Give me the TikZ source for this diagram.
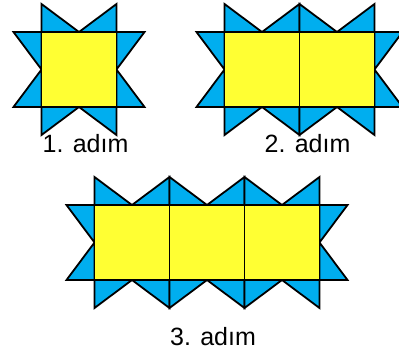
\documentclass[tikz,border=0pt]{standalone}
\usepackage{fontspec}
\setmainfont{Liberation Sans}
\definecolor{tri}{RGB}{0,174,239}
\definecolor{sq}{RGB}{255,255,51}
\tikzset{
  tribox/.style={fill=tri,draw=black,line width=1.8pt,line join=miter},
  sqbox/.style={fill=sq,draw=black,line width=1.8pt},
  lbl/.style={anchor=base,inner sep=0pt,font=\fontsize{25}{29}\selectfont}
}
\begin{document}
\begin{tikzpicture}[x=1pt,y=-1pt]
\useasboundingbox (0,0) rectangle (399,351);
\clip (0,0) rectangle (399,351);
% fig: origin x0,y0, count n
\foreach \xo/\yo/\n in {41.5/32/1, 224.5/32/2, 94.5/205/3}{
  \pgfmathsetmacro{\xe}{\xo+75*\n}
  \pgfmathtruncatemacro{\nm}{\n-1}
  \foreach \i in {0,...,\nm}{
    \pgfmathsetmacro{\xl}{\xo+75*\i}
    \pgfmathsetmacro{\xr}{\xl+75}
    \pgfmathsetmacro{\xm}{\xl+37.5}
    \draw[tribox] (\xl,\yo-28) -- (\xl,\yo) -- (\xm,\yo) -- cycle;
    \draw[tribox] (\xr,\yo-28) -- (\xr,\yo) -- (\xm,\yo) -- cycle;
    \draw[tribox] (\xl,\yo+103) -- (\xl,\yo+75) -- (\xm,\yo+75) -- cycle;
    \draw[tribox] (\xr,\yo+103) -- (\xr,\yo+75) -- (\xm,\yo+75) -- cycle;
  }
  \draw[tribox] (\xo-28,\yo) -- (\xo,\yo) -- (\xo,\yo+37.5) -- cycle;
  \draw[tribox] (\xo-28,\yo+75) -- (\xo,\yo+75) -- (\xo,\yo+37.5) -- cycle;
  \draw[tribox] (\xe+28,\yo) -- (\xe,\yo) -- (\xe,\yo+37.5) -- cycle;
  \draw[tribox] (\xe+28,\yo+75) -- (\xe,\yo+75) -- (\xe,\yo+37.5) -- cycle;
  \foreach \i in {0,...,\nm}{
    \pgfmathsetmacro{\xl}{\xo+75*\i}
    \draw[sqbox] (\xl,\yo) rectangle ++(75,75);
  }
}
\node[lbl] (l1) at (85.5,152) {1. adım};
\node[lbl] (l2) at (307.5,152) {2. adım};
\node[lbl] (l3) at (213,345) {3. adım};
\end{tikzpicture}
\end{document}
